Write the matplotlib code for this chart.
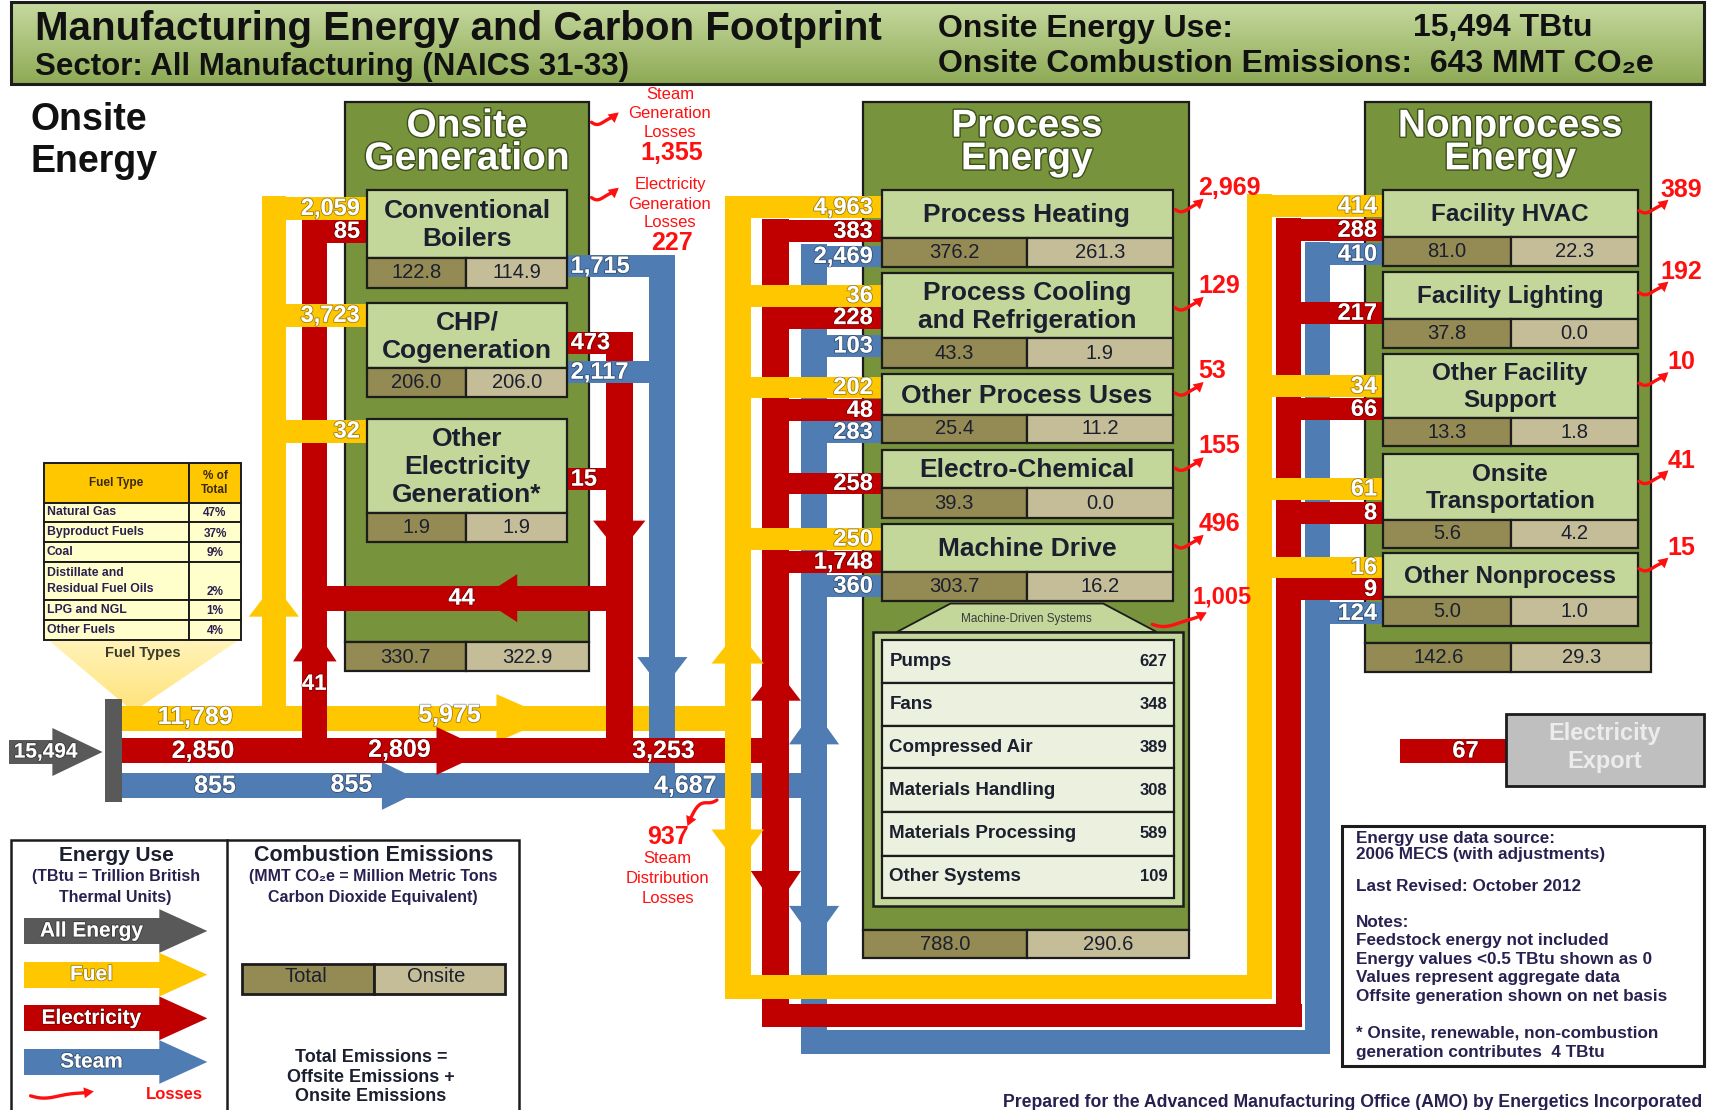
import matplotlib.pyplot as plt
import matplotlib.patheffects as pe
from matplotlib.patches import Rectangle, Polygon
from matplotlib.colors import LinearSegmentedColormap
import numpy as np

plt.rcParams['font.family'] = ['Liberation Sans', 'DejaVu Sans']

# ---- values shown in the footprint (TBtu; emissions in MMT CO2e) ----
onsite_energy = 15494
onsite_emissions = 643

fuel_types = ['Natural Gas', 'Byproduct Fuels', 'Coal',
              'Distillate and\nResidual Fuel Oils', 'LPG and NGL', 'Other Fuels']
fuel_share = [47, 37, 9, 2, 1, 4]

fuel_main = [11789, 5975]
elec_main = [2850, 2809, 3253]
steam_main = [855, 855, 4687]
grid_to_boilers = 41
chp_to_boilers = 44
elec_export = 67

gen_units = ['Conventional\nBoilers', 'CHP/\nCogeneration', 'Other\nElectricity\nGeneration*']
gen_fuel = [2059, 3723, 32]
gen_elec_in = [85, None, None]
gen_steam_out = [1715, 2117, None]
gen_elec_out = [None, 473, 15]
gen_total = [122.8, 206.0, 1.9]
gen_onsite = [114.9, 206.0, 1.9]
gen_sum = [330.7, 322.9]
steam_gen_loss = 1355
elec_gen_loss = 227
steam_dist_loss = 937

proc_uses = ['Process Heating', 'Process Cooling\nand Refrigeration', 'Other Process Uses',
             'Electro-Chemical', 'Machine Drive']
proc_fuel = [4963, 36, 202, None, 250]
proc_elec = [383, 228, 48, 258, 1748]
proc_steam = [2469, 103, 283, None, 360]
proc_total = [376.2, 43.3, 25.4, 39.3, 303.7]
proc_onsite = [261.3, 1.9, 11.2, 0.0, 16.2]
proc_loss = [2969, 129, 53, 155, 496]
proc_sum = [788.0, 290.6]

machine_systems = ['Pumps', 'Fans', 'Compressed Air', 'Materials Handling',
                   'Materials Processing', 'Other Systems']
machine_energy = [627, 348, 389, 308, 589, 109]
machine_loss = 1005

nonproc_uses = ['Facility HVAC', 'Facility Lighting', 'Other Facility\nSupport',
                'Onsite\nTransportation', 'Other Nonprocess']
nonproc_fuel = [414, None, 34, 61, 16]
nonproc_elec = [288, 217, 66, 8, 9]
nonproc_steam = [410, None, None, None, 124]
nonproc_total = [81.0, 37.8, 13.3, 5.6, 5.0]
nonproc_onsite = [22.3, 0.0, 1.8, 4.2, 1.0]
nonproc_loss = [389, 192, 10, 41, 15]
nonproc_sum = [142.6, 29.3]

# ---- layout: pixels of a 1568 x 1017 canvas, y pointing down ----
gen_rows = [(174, 236, 264), (278, 337, 364), (384, 470, 497)]
gen_fuel_y = [191, 289, 395]
gen_elin_y = [212, None, None]
gen_steam_y = [244, 341, None]
gen_elout_y = [None, 314, 439]

proc_rows = [(174, 218, 245), (250, 310, 337), (343, 380, 406), (412, 447, 475), (480, 524, 551)]
proc_fuel_y = [190, 271, 355, None, 494]
proc_elec_y = [212, 291, 376, 443, 515]
proc_steam_y = [235, 317, 396, None, 537]
proc_loss_y = [192, 282, 360, 429, 500]

np_rows = [(174, 217, 244), (249, 292, 319), (324, 383, 409), (416, 476, 502), (507, 547, 574)]
np_fuel_y = [189, None, 354, 448, 520]
np_elec_y = [211, 287, 375, 470, 540]
np_steam_y = [233, None, None, None, 562]
np_loss_y = [193, 268, 351, 441, 521]

YEL = '#ffc700'
RED = '#c00000'
BLU = '#4f7db3'
GRY = '#595959'
GRN = '#77933c'
LGRN = '#c4d79b'
DKC = '#948a54'
LTC = '#c4bd97'
INK = '#1b1f2e'
LOSS = '#ff1010'

fig = plt.figure(figsize=(17.11, 11.10), dpi=100)
ax = fig.add_axes([0, 0, 1, 1])


def rect(x0, y0, x1, y1, fc, ec='#1c1c1c', lw=1.6, z=1):
    ax.add_patch(Rectangle((x0, y0), x1 - x0, y1 - y0, fc=fc, ec=ec, lw=lw, zorder=z))


def hbar(x0, x1, yc, color, w=20, z=2):
    rect(x0, yc - w / 2, x1, yc + w / 2, color, ec='none', lw=0, z=z)


def vbar(xc, y0, y1, color, w=24, z=2):
    rect(xc - w / 2, y0, xc + w / 2, y1, color, ec='none', lw=0, z=z)


def head(xt, yt, way, color, half=22, length=32, z=2):
    if way == 'right':
        pts = [(xt, yt), (xt - length, yt - half), (xt - length, yt + half)]
    elif way == 'left':
        pts = [(xt, yt), (xt + length, yt - half), (xt + length, yt + half)]
    elif way == 'up':
        pts = [(xt, yt), (xt - half, yt + length), (xt + half, yt + length)]
    else:
        pts = [(xt, yt), (xt - half, yt - length), (xt + half, yt - length)]
    ax.add_patch(Polygon(pts, closed=True, fc=color, ec='none', zorder=z))


WFX = [pe.withStroke(linewidth=1.3, foreground=(0, 0, 0, 0.35))]
TFX = [pe.withStroke(linewidth=2.0, foreground='#3d4f1c')]


def flow_label(x, y, v, ha='right', size=17):
    ax.text(x, y, f'{v:,}', ha=ha, va='center', color='white', fontsize=size,
            fontweight='bold', zorder=9, path_effects=WFX)


def squiggle(x0, y0, x1, y1, z=6):
    t = np.linspace(0, 1, 40)
    xs = x0 + (x1 - x0) * t
    ys = y0 + (y1 - y0) * t ** 3 + 2.8 * np.sin(2 * np.pi * t) * (1 - t)
    ax.plot(xs[:-4], ys[:-4], color=LOSS, lw=2.4, zorder=z, solid_capstyle='round')
    dx, dy = xs[-1] - xs[-7], ys[-1] - ys[-7]
    n = np.hypot(dx, dy)
    ux, uy = dx / n, dy / n
    L, H = 9, 5
    bx, by = xs[-1] - ux * L, ys[-1] - uy * L
    pts = [(xs[-1], ys[-1]), (bx - uy * H, by + ux * H), (bx + uy * H, by - ux * H)]
    ax.add_patch(Polygon(pts, fc=LOSS, ec='none', zorder=z))


def txt(x, y, s, size=12, color=INK, ha='center', weight='bold', z=6, **kw):
    ax.text(x, y, s, ha=ha, va='center', fontsize=size, color=color,
            fontweight=weight, zorder=z, **kw)


# ---- header ----
hg = ax.imshow(np.linspace(0, 1, 60).reshape(-1, 1), extent=[10, 1562, 77, 2],
               cmap=LinearSegmentedColormap.from_list('hdr', ['#c6d99f', '#8eaa55']),
               aspect='auto', zorder=1)
rect(10, 2, 1562, 77, 'none', lw=2.2, z=1.1)
txt(32, 27, 'Manufacturing Energy and Carbon Footprint', 29, '#111111', ha='left')
txt(32, 61, 'Sector: All Manufacturing (NAICS 31-33)', 22.5, '#111111', ha='left')
txt(860, 27, 'Onsite Energy Use:', 23, '#111111', ha='left')
txt(1295, 26, f'{onsite_energy:,} TBtu', 23, '#111111', ha='left')
txt(860, 59, f'Onsite Combustion Emissions:  {onsite_emissions} MMT CO\u2082e', 23, '#111111', ha='left')

txt(28, 110, 'Onsite', 27, '#111111', ha='left')
txt(28, 148, 'Energy', 27, '#111111', ha='left')

# ---- fuel type table ----
tri = Polygon([(45, 587), (218, 587), (122, 652)], closed=True, fc='none', ec='none')
ax.add_patch(tri)
tg = ax.imshow(np.linspace(0, 1, 60).reshape(-1, 1), extent=[45, 218, 652, 587],
               cmap=LinearSegmentedColormap.from_list('tri', ['#fff3b8', '#ffe27a']),
               aspect='auto', zorder=1.4)
tg.set_clip_path(tri)
txt(131, 598, 'Fuel Types', 10.5, '#3a3a2a')
fy = [424, 461, 478, 497, 515, 550, 568, 586]
rect(40, fy[0], 173, fy[1], YEL, lw=1.4, z=3)
rect(173, fy[0], 221, fy[1], YEL, lw=1.4, z=3)
txt(106, (fy[0] + fy[1]) / 2, 'Fuel Type', 8.5, '#3a2a10', z=4)
txt(197, (fy[0] + fy[1]) / 2, '% of\nTotal', 8.5, '#3a2a10', z=4, linespacing=1.3)
for i, name in enumerate(fuel_types):
    rect(40, fy[i + 1], 173, fy[i + 2], '#ffffcc', lw=1.4, z=3)
    rect(173, fy[i + 1], 221, fy[i + 2], '#ffffcc', lw=1.4, z=3)
    txt(43, (fy[i + 1] + fy[i + 2]) / 2, name, 8.8, '#2a2050', ha='left', z=4, linespacing=1.45)
    txt(197, fy[i + 2] - 8, f'{fuel_share[i]}%', 8.5, '#2a2050', z=4)

# ---- gray supply bar ----
rect(96, 640, 112, 735, GRY, ec='none', lw=0, z=3)
hbar(8, 52, 689, GRY, w=22, z=3)
head(94, 689, 'right', GRY, half=22, length=46, z=3)
flow_label(42, 689, onsite_energy, ha='center', size=15)

# ---- big green boxes ----
rect(316, 93, 540, 588, GRN, z=1)
rect(316, 588, 427, 615, DKC, z=1)
rect(427, 588, 540, 615, LTC, z=1)
rect(791, 93, 1090, 852, GRN, z=1)
rect(791, 852, 941, 878, DKC, z=1)
rect(941, 852, 1090, 878, LTC, z=1)
rect(1251, 93, 1513, 589, GRN, z=1)
rect(1251, 589, 1385, 616, DKC, z=1)
rect(1385, 589, 1513, 616, LTC, z=1)
for xc, lines in [(428, ['Onsite', 'Generation']), (941, ['Process', 'Energy']),
                  (1384, ['Nonprocess', 'Energy'])]:
    txt(xc, 116, lines[0], 28, 'white', z=6, path_effects=TFX)
    txt(xc, 146, lines[1], 28, 'white', z=6, path_effects=TFX)
txt(371.5, 602, f'{gen_sum[0]:.1f}', 14.5, weight='normal')
txt(483.5, 602, f'{gen_sum[1]:.1f}', 14.5, weight='normal')
txt(866, 865, f'{proc_sum[0]:.1f}', 14.5, weight='normal')
txt(1015.5, 865, f'{proc_sum[1]:.1f}', 14.5, weight='normal')
txt(1318, 602, f'{nonproc_sum[0]:.1f}', 14.5, weight='normal')
txt(1449, 602, f'{nonproc_sum[1]:.1f}', 14.5, weight='normal')

# ---- main feed lines ----
hbar(112, 676, 658, YEL, w=23, z=2.0)
head(505, 658, 'right', YEL, half=22, length=50, z=2.01)
hbar(112, 711, 688, RED, w=23, z=2.4)
head(447, 688, 'right', RED, half=22, length=47, z=2.41)
hbar(112, 746, 720, BLU, w=23, z=2.0)
head(395, 720, 'right', BLU, half=22, length=45, z=2.01)
flow_label(179, 657, fuel_main[0], 'center', 18)
flow_label(412, 655, fuel_main[1], 'center', 18)
flow_label(186, 688, elec_main[0], 'center', 18)
flow_label(366, 687, elec_main[1], 'center', 18)
flow_label(608, 688, elec_main[2], 'center', 18)
flow_label(197, 720, steam_main[0], 'center', 18)
flow_label(322, 719, steam_main[1], 'center', 18)
flow_label(628, 720, steam_main[2], 'center', 18)

# ---- onsite generation flows ----
vbar(251, 180, 658, YEL, w=22, z=1.9)
head(251, 535, 'up', YEL, half=23, length=30, z=1.91)
vbar(288.5, 201, 688, RED, w=23, z=2.2)
head(288.5, 576, 'up', RED, half=20, length=30, z=2.21)
flow_label(288, 627, grid_to_boilers, 'center', 16)
for i in range(3):
    hbar(240, 336, gen_fuel_y[i], YEL, w=21, z=2.9)
    flow_label(330, gen_fuel_y[i], gen_fuel[i])
    if gen_elin_y[i] is not None:
        hbar(277, 336, gen_elin_y[i], RED, w=21, z=2.8)
        flow_label(330, gen_elin_y[i], gen_elec_in[i])
vbar(607, 234, 720, BLU, w=24, z=2.2)
head(607, 632, 'down', BLU, half=23, length=30, z=2.21)
vbar(567.5, 304, 688, RED, w=25, z=2.2)
head(567.5, 507, 'down', RED, half=24, length=30, z=2.21)
for i in range(3):
    if gen_steam_y[i] is not None:
        hbar(520, 607, gen_steam_y[i], BLU, w=20, z=2.7)
        flow_label(523, gen_steam_y[i], gen_steam_out[i], 'left')
    if gen_elout_y[i] is not None:
        hbar(520, 567, gen_elout_y[i], RED, w=20, z=2.8)
        flow_label(523, gen_elout_y[i], gen_elec_out[i], 'left')
hbar(277, 580, 548, RED, w=23, z=2.8)
head(440, 548, 'left', RED, half=22, length=34, z=2.81)
flow_label(423, 548, chp_to_boilers, 'center')

# ---- process energy flows ----
vbar(676, 180, 915, YEL, w=24, z=2.6)
head(676, 578, 'up', YEL, half=24, length=30, z=2.61)
head(676, 792, 'down', YEL, half=24, length=32, z=2.61)
vbar(711, 201, 941, RED, w=25, z=2.5)
head(711, 612, 'up', RED, half=23, length=30, z=2.51)
head(711, 832, 'down', RED, half=23, length=34, z=2.51)
vbar(746, 224, 966, BLU, w=24, z=2.3)
head(746, 650, 'up', BLU, half=23, length=32, z=2.31)
head(746, 862, 'down', BLU, half=23, length=32, z=2.31)
for i in range(5):
    if proc_fuel_y[i] is not None:
        hbar(664, 808, proc_fuel_y[i], YEL, w=20, z=2.9)
        flow_label(800, proc_fuel_y[i], proc_fuel[i])
    hbar(699, 808, proc_elec_y[i], RED, w=20, z=2.8)
    flow_label(800, proc_elec_y[i], proc_elec[i])
    if proc_steam_y[i] is not None:
        hbar(734, 808, proc_steam_y[i], BLU, w=20, z=2.7)
        flow_label(800, proc_steam_y[i], proc_steam[i])

# connectors to nonprocess
hbar(664, 1166, 904, YEL, w=22, z=2.9)
hbar(699, 1193, 930.5, RED, w=21, z=2.8)
hbar(734, 1219, 955, BLU, w=22, z=2.7)

# ---- nonprocess flows ----
vbar(1154, 178, 915, YEL, w=23, z=2.6)
vbar(1181, 200, 941, RED, w=23, z=2.5)
vbar(1207, 222, 966, BLU, w=23, z=2.3)
for i in range(5):
    if np_fuel_y[i] is not None:
        hbar(1143, 1267, np_fuel_y[i], YEL, w=20, z=2.9)
        flow_label(1262, np_fuel_y[i], nonproc_fuel[i])
    hbar(1170, 1267, np_elec_y[i], RED, w=20, z=2.8)
    flow_label(1262, np_elec_y[i], nonproc_elec[i])
    if np_steam_y[i] is not None:
        hbar(1196, 1267, np_steam_y[i], BLU, w=20, z=2.7)
        flow_label(1262, np_steam_y[i], nonproc_steam[i])

# ---- sub boxes ----
for i, (t, m, b) in enumerate(gen_rows):
    rect(336, t, 520, m, LGRN, z=4)
    rect(336, m, 427, b, DKC, z=4)
    rect(427, m, 520, b, LTC, z=4)
    txt(428, (t + m) / 2 + 1, gen_units[i], 19, linespacing=1.22)
    txt(381.5, (m + b) / 2, f'{gen_total[i]:.1f}', 14.5, weight='normal')
    txt(473.5, (m + b) / 2, f'{gen_onsite[i]:.1f}', 14.5, weight='normal')

for i, (t, m, b) in enumerate(proc_rows):
    rect(808, t, 1075, m, LGRN, z=4)
    rect(808, m, 941, b, DKC, z=4)
    rect(941, m, 1075, b, LTC, z=4)
    txt(941, (t + m) / 2 + 1, proc_uses[i], 19, linespacing=1.22)
    txt(874.5, (m + b) / 2, f'{proc_total[i]:.1f}', 14.5, weight='normal')
    txt(1008, (m + b) / 2, f'{proc_onsite[i]:.1f}', 14.5, weight='normal')
    squiggle(1077, proc_loss_y[i], 1103, proc_loss_y[i] - 10)
    txt(1098, proc_loss_y[i] - 20, f'{proc_loss[i]:,}', 18, LOSS, ha='left')

# machine driven systems
ax.add_patch(Polygon([(871, 553), (1011, 553), (1060, 579), (822, 579)], closed=True,
                     fc=LGRN, ec='#1c1c1c', lw=1.3, zorder=4))
txt(941, 567, 'Machine-Driven Systems', 8.5, '#3a3a3a', weight='normal')
rect(800, 579, 1084, 830, LGRN, lw=1.8, z=4)
my = [586, 626, 665, 704, 744, 784, 823]
for i, name in enumerate(machine_systems):
    rect(808, my[i], 1076, my[i + 1], '#ebf1de', lw=1.6, z=4.5)
    txt(815, (my[i] + my[i + 1]) / 2, name, 13.5, ha='left')
    txt(1070, (my[i] + my[i + 1]) / 2, f'{machine_energy[i]}', 12, ha='right')
squiggle(1056, 572, 1106, 561)
txt(1093, 547, f'{machine_loss:,}', 17, LOSS, ha='left')

for i, (t, m, b) in enumerate(np_rows):
    rect(1267, t, 1501, m, LGRN, z=4)
    rect(1267, m, 1385, b, DKC, z=4)
    rect(1385, m, 1501, b, LTC, z=4)
    txt(1384, (t + m) / 2 + 1, nonproc_uses[i], 17.5, linespacing=1.22)
    txt(1326, (m + b) / 2, f'{nonproc_total[i]:.1f}', 14.5, weight='normal')
    txt(1443, (m + b) / 2, f'{nonproc_onsite[i]:.1f}', 14.5, weight='normal')
    squiggle(1502, np_loss_y[i], 1529, np_loss_y[i] - 10)
    txt(1541, np_loss_y[i] - 19, f'{nonproc_loss[i]:,}', 18, LOSS, ha='center')

# ---- onsite generation losses ----
squiggle(542, 112, 567, 103)
txt(614, 87, 'Steam', 12, LOSS, weight='normal')
txt(614, 104, 'Generation', 12, LOSS, weight='normal')
txt(614, 121, 'Losses', 12, LOSS, weight='normal')
txt(616, 140, f'{steam_gen_loss:,}', 18, LOSS)
squiggle(542, 181, 567, 172)
txt(614, 169, 'Electricity', 12, LOSS, weight='normal')
txt(614, 187, 'Generation', 12, LOSS, weight='normal')
txt(614, 204, 'Losses', 12, LOSS, weight='normal')
txt(616, 223, f'{elec_gen_loss:,}', 18, LOSS)

squiggle(657, 733, 630, 757)
txt(612, 767, f'{steam_dist_loss:,}', 18, LOSS)
txt(612, 787, 'Steam', 12, LOSS, weight='normal')
txt(612, 805, 'Distribution', 12, LOSS, weight='normal')
txt(612, 823, 'Losses', 12, LOSS, weight='normal')

# ---- electricity export ----
hbar(1283, 1381, 688, RED, w=22, z=2)
flow_label(1343, 688, elec_export, 'center')
rect(1380, 654, 1562, 720, '#bfbfbf', lw=2, z=3)
txt(1471, 672, 'Electricity', 17, '#ececec', z=4)
txt(1471, 698, 'Export', 17, '#ececec', z=4)

# ---- legend ----
rect(10, 770, 476, 1040, 'white', lw=1.8, z=3)
ax.plot([208, 208], [770, 1040], color='#1c1c1c', lw=1.8, zorder=3.1)
txt(107, 784, 'Energy Use', 15, z=4)
txt(106, 803, '(TBtu = Trillion British', 11.5, '#2a2050', z=4)
txt(106, 822, 'Thermal Units)', 11.5, '#2a2050', z=4)
for yc, col, name in [(853, GRY, 'All Energy'), (893, YEL, 'Fuel'),
                      (933, RED, 'Electricity'), (973, BLU, 'Steam')]:
    hbar(22, 148, yc, col, w=24, z=4)
    head(190, yc, 'right', col, half=20, length=44, z=4)
    txt(84, yc, name, 15, 'white', z=5, path_effects=WFX)
squiggle(28, 1004, 86, 1000, z=5)
txt(160, 1003, 'Losses', 12, LOSS, z=5)
txt(342, 784, 'Combustion Emissions', 15.5, z=4)
txt(342, 803, '(MMT CO\u2082e = Million Metric Tons', 11.5, '#2a2050', z=4)
txt(342, 822, 'Carbon Dioxide Equivalent)', 11.5, '#2a2050', z=4)
rect(222, 883, 343, 911, DKC, lw=2, z=4)
rect(343, 883, 463, 911, LTC, lw=2, z=4)
txt(280, 895, 'Total', 14.5, weight='normal', z=5)
txt(400, 895, 'Onsite', 14.5, weight='normal', z=5)
txt(340, 969, 'Total Emissions =', 13, z=4)
txt(340, 987, 'Offsite Emissions +', 13, z=4)
txt(340, 1005, 'Onsite Emissions', 13, z=4)

# ---- notes ----
rect(1230, 757, 1562, 977, 'white', lw=2.2, z=3)
notes = [(768, 'Energy use data source:'), (783, '2006 MECS (with adjustments)'),
         (812, 'Last Revised: October 2012'), (845, 'Notes:'),
         (862, 'Feedstock energy not included'), (879, 'Energy values <0.5 TBtu shown as 0'),
         (896, 'Values represent aggregate data'), (913, 'Offsite generation shown on net basis'),
         (946, '* Onsite, renewable, non-combustion'), (964, 'generation contributes  4 TBtu')]
for y, s in notes:
    txt(1243, y, s, 12.3, '#2a2050', ha='left', z=4)
txt(1560, 1010, 'Prepared for the Advanced Manufacturing Office (AMO) by Energetics Incorporated',
    12.7, '#2a2050', ha='right', z=4)

ax.set_xlim(0, 1568)
ax.set_ylim(1017, 0)
ax.axis('off')
fig.savefig('out.png', dpi=100)
